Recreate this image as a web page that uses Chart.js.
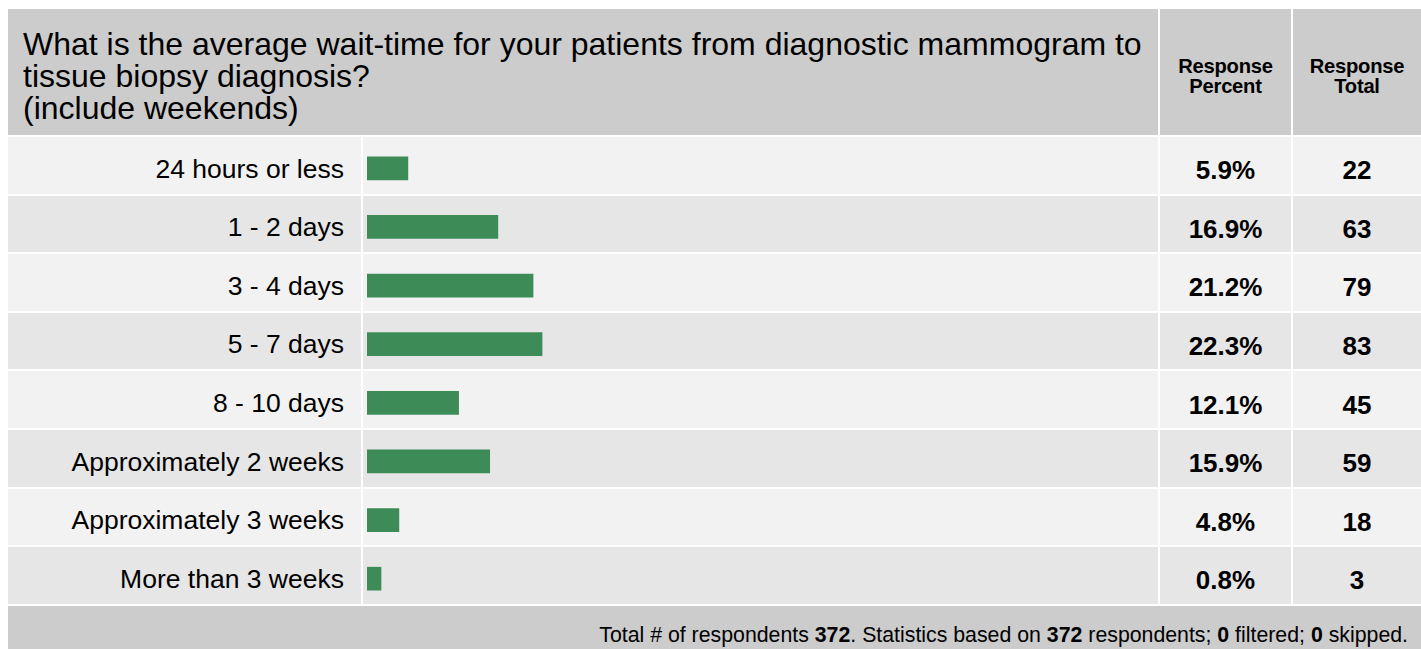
<!DOCTYPE html>
<html>
<head>
<meta charset="utf-8">
<script src="https://cdn.jsdelivr.net/npm/chart.js@4/dist/chart.umd.min.js"></script>
<style>
  html, body { margin: 0; padding: 0; background: #ffffff; width: 1421px; height: 649px; overflow: hidden; }
  body { font-family: "Liberation Sans", Arial, Helvetica, sans-serif; color: #000; position: relative; }
  .box { position: absolute; box-sizing: border-box; }
  .hdr { background: #cccccc; }
  .odd { background: #f2f2f2; }
  .even { background: #e6e6e6; }
  .title { font-size: 32px; line-height: 32px; white-space: nowrap; padding: 18.9px 0 0 15px; }
  .colhead { font-size: 20.2px; line-height: 20.5px; font-weight: bold; text-align: center; display: flex; align-items: center; justify-content: center; padding-top: 8px; letter-spacing: -0.25px; }
  .label { font-size: 26.5px; line-height: 26px; text-align: right; padding: 18.7px 17px 0 0; white-space: nowrap; }
  .val { font-size: 26px; line-height: 26px; font-weight: bold; text-align: center; padding-top: 20.3px; }
  .footer { font-size: 21.3px; line-height: 20px; text-align: right; padding: 19.3px 13px 0 0; white-space: nowrap; }
  #chartBox { position: absolute; left: 367px; top: 139px; width: 791px; height: 469px; }
</style>
</head>
<body>
<div id="table"></div>
<div id="chartBox"><canvas id="c"></canvas></div>
<script>
// ---- data ----
const questionLines = [
  "What is the average wait-time for your patients from diagnostic mammogram to",
  "tissue biopsy diagnosis?",
  "(include weekends)"
];
const columnHeaders = [["Response", "Percent"], ["Response", "Total"]];
const categories = [
  "24 hours or less",
  "1 - 2 days",
  "3 - 4 days",
  "5 - 7 days",
  "8 - 10 days",
  "Approximately 2 weeks",
  "Approximately 3 weeks",
  "More than 3 weeks"
];
const responsePercent = [5.9, 16.9, 21.2, 22.3, 12.1, 15.9, 4.8, 0.8];
const responseTotal = [22, 63, 79, 83, 45, 59, 18, 3];
const totalRespondents = 372;
const basedOn = 372;
const filteredCount = 0;
const skippedCount = 0;

// ---- layout ----
const L = {
  left: 8, right: 1421,
  headerTop: 9, headerH: 126,
  rowTop: 137, pitch: 58.6, rowH: 56.6,
  labelEnd: 361, barStart: 363, barEnd: 1158,
  pctStart: 1160, pctEnd: 1291, totStart: 1293
};
const table = document.getElementById('table');
function box(cls, x, y, w, h, html) {
  const d = document.createElement('div');
  d.className = 'box ' + cls;
  d.style.left = x + 'px'; d.style.top = y + 'px';
  d.style.width = w + 'px'; d.style.height = h + 'px';
  if (html !== undefined) d.innerHTML = html;
  table.appendChild(d);
  return d;
}
// header
box('hdr title', L.left, L.headerTop, L.barEnd - L.left, L.headerH, questionLines.join('<br>'));
box('hdr colhead', L.pctStart, L.headerTop, L.pctEnd - L.pctStart, L.headerH, '<div>' + columnHeaders[0].join('<br>') + '</div>');
box('hdr colhead', L.totStart, L.headerTop, L.right - L.totStart, L.headerH, '<div>' + columnHeaders[1].join('<br>') + '</div>');
// rows
categories.forEach((cat, i) => {
  const cls = i % 2 === 0 ? 'odd' : 'even';
  const y = L.rowTop + i * L.pitch;
  box(cls + ' label', L.left, y, L.labelEnd - L.left, L.rowH, cat);
  box(cls, L.barStart, y, L.barEnd - L.barStart, L.rowH);
  box(cls + ' val', L.pctStart, y, L.pctEnd - L.pctStart, L.rowH, responsePercent[i].toFixed(1) + '%');
  box(cls + ' val', L.totStart, y, L.right - L.totStart, L.rowH, String(responseTotal[i]));
});
// footer
const fy = L.rowTop + categories.length * L.pitch;
box('hdr footer', L.left, fy, L.right - L.left, 60,
  'Total # of respondents <b>' + totalRespondents + '</b>. Statistics based on <b>' + basedOn +
  '</b> respondents; <b>' + filteredCount + '</b> filtered; <b>' + skippedCount + '</b> skipped.');

// ---- chart (bars) ----
new Chart(document.getElementById('c'), {
  type: 'bar',
  data: {
    labels: categories,
    datasets: [{
      data: responsePercent,
      backgroundColor: '#3d8c58',
      borderWidth: 0,
      barThickness: 23,
      minBarLength: 14
    }]
  },
  options: {
    indexAxis: 'y',
    responsive: true,
    maintainAspectRatio: false,
    animation: false,
    layout: { padding: 0 },
    plugins: { legend: { display: false }, tooltip: { enabled: false } },
    scales: {
      x: { display: false, min: 0.9, max: 97.6 },
      y: { display: false, offset: true }
    }
  }
});
</script>
</body>
</html>
